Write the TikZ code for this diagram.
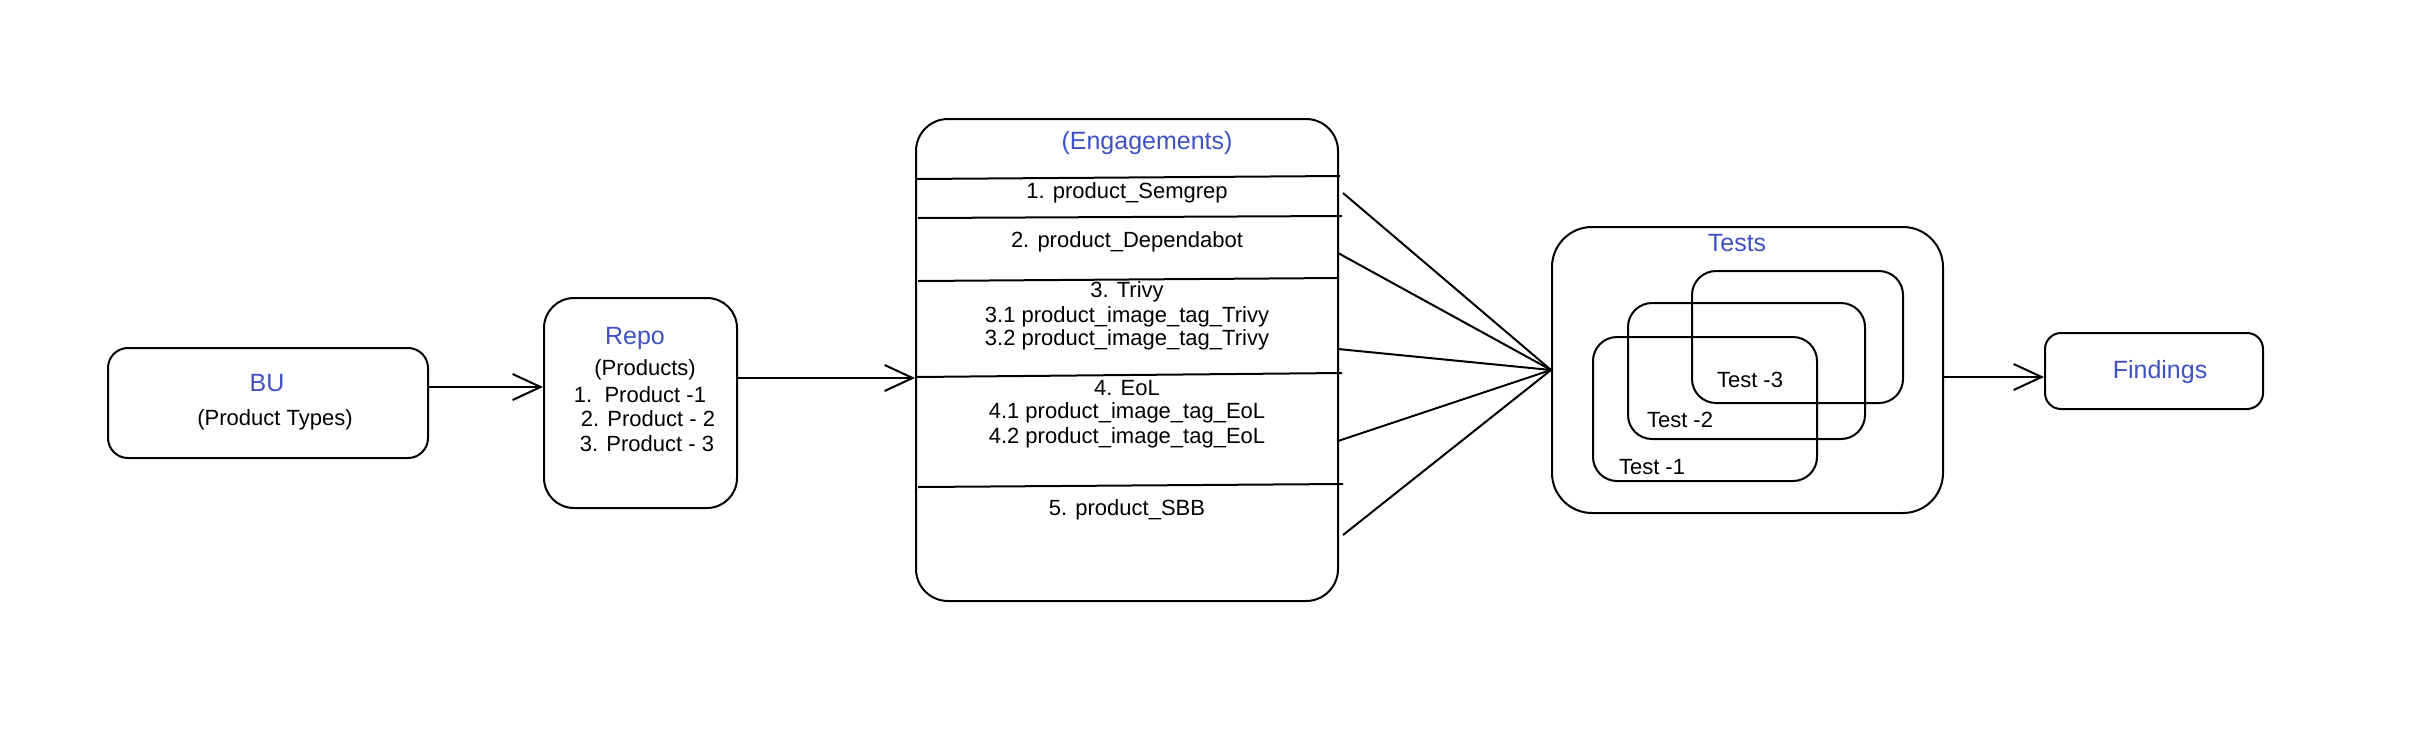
\documentclass[tikz,border=0pt]{standalone}
\usepackage{fontspec}
\setmainfont{Liberation Sans}
\usetikzlibrary{arrows.meta,fit}
\definecolor{ttlblue}{HTML}{3F51C3}
\begin{document}
\begin{tikzpicture}[x=0.5pt,y=-0.5pt,
  box/.style={draw, line width=1pt, inner sep=0pt},
  ttl/.style={text=ttlblue, font=\fontsize{12.5}{15}\selectfont, inner sep=0pt},
  txt/.style={font=\fontsize{11}{13}\selectfont, inner sep=0pt},
  arr/.style={line width=1pt, -{Straight Barb[length=14pt,width=13pt,line width=1pt]}},
  ln/.style={line width=1pt}]
\useasboundingbox (0,0) rectangle (2420,740);

% BU
\node[box, rounded corners=10pt, fit={(108,348) (428,458)}] (bu) {};
\node[ttl] (bult) at (267,383) {BU};
\node[txt] (butx) at (275,420) {(Product Types)};

% Repo
\node[box, rounded corners=15pt, fit={(544,298) (737,508)}] (repo) {};
\node[ttl] (repot) at (635,338) {Repo};
\node[txt] (rp0) at (645,370) {(Products)};
\node[txt] (rp1) at (640,395) {1.\ \ Product -1};
\node[txt] (rp2) at (648,419) {2. Product - 2};
\node[txt] (rp3) at (647,444) {3. Product - 3};

% Engagements
\node[box, rounded corners=16pt, fit={(916,119) (1338,601)}] (eng) {};
\node[ttl] (engt) at (1147,143) {(Engagements)};
\draw[ln] (916,179) -- (1340,176);
\draw[ln] (918,218) -- (1342,216);
\draw[ln] (918,281) -- (1338,278);
\draw[ln] (916,377) -- (1342,373);
\draw[ln] (918,487) -- (1343,484);
\node[txt] (e1) at (1127,193) {1. product\_Semgrep};
\node[txt] (e2) at (1127,242) {2. product\_Dependabot};
\node[txt] (e3) at (1127,292) {3. Trivy};
\node[txt] (e31) at (1127,317) {3.1 product\_image\_tag\_Trivy};
\node[txt] (e32) at (1127,340) {3.2 product\_image\_tag\_Trivy};
\node[txt] (e4) at (1127,388) {4. EoL};
\node[txt] (e41) at (1127,413) {4.1 product\_image\_tag\_EoL};
\node[txt] (e42) at (1127,438) {4.2 product\_image\_tag\_EoL};
\node[txt] (e5) at (1127,510) {5. product\_SBB};

% Tests
\node[box, rounded corners=20pt, fit={(1552,227) (1943,513)}] (tests) {};
\node[ttl] (testst) at (1737,243) {Tests};
\node[box, rounded corners=12pt, fit={(1692,271) (1903,403)}] (t3) {};
\node[box, rounded corners=12pt, fit={(1628,303) (1865,439)}] (t2) {};
\node[box, rounded corners=12pt, fit={(1593,337) (1817,481)}] (t1) {};
\node[txt] (t3l) at (1750,380) {Test -3};
\node[txt] (t2l) at (1680,420) {Test -2};
\node[txt] (t1l) at (1652,467) {Test -1};

% Findings
\node[box, rounded corners=8pt, fit={(2045,333) (2263,409)}] (find) {};
\node[ttl] (findt) at (2160,372) {Findings};

% connectors
\draw[arr] (bu.east |- 0,387) -- (repo.west |- 0,387);
\draw[arr] (repo.east |- 0,378) -- (eng.west |- 0,378);
\coordinate (f1) at (1343,193);
\coordinate (f2) at (1338,253);
\coordinate (f3) at (1338,349);
\coordinate (f4) at (1338,441);
\coordinate (f5) at (1343,535);
\foreach \f in {f1,f2,f3,f4,f5} \draw[ln] (\f) -- (tests.west);
\draw[arr] (tests.east |- 0,377) -- (find.west |- 0,377);
\end{tikzpicture}
\end{document}
